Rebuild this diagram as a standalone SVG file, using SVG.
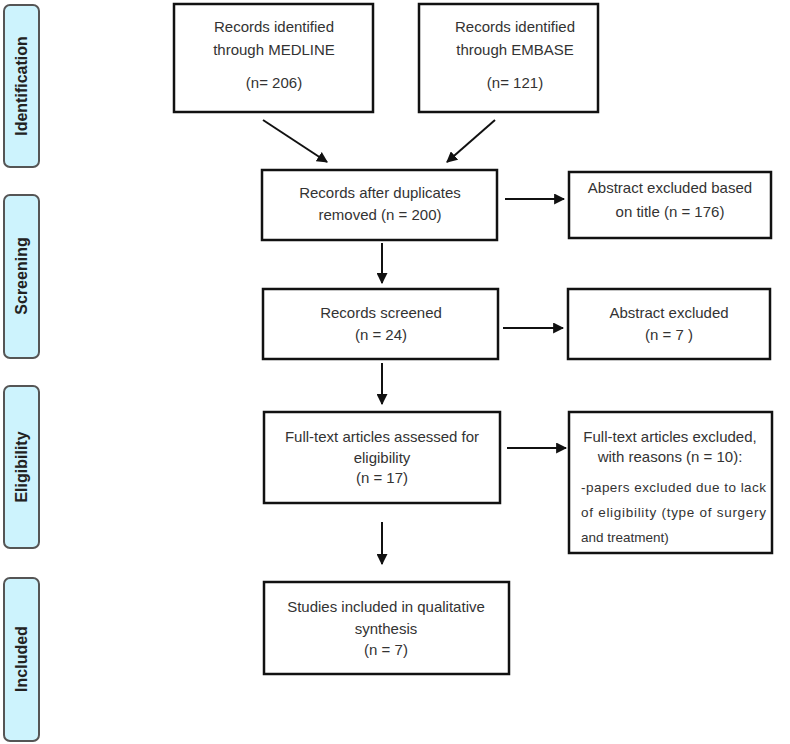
<svg xmlns="http://www.w3.org/2000/svg" width="790" height="744" viewBox="0 0 790 744">
<style>
.box{fill:#fff;stroke:#111;stroke-width:2.5}
.side{fill:#cdf3fd;stroke:#555;stroke-width:2}
.t{font-family:"Liberation Sans",Arial,sans-serif;font-size:15px;fill:#333;text-anchor:middle}
.j{font-family:"Liberation Sans",Arial,sans-serif;font-size:13.5px;fill:#333}
.s{font-family:"Liberation Sans",Arial,sans-serif;font-size:16px;font-weight:bold;fill:#222;text-anchor:middle}
.c{stroke:#111;stroke-width:2;fill:none}
</style>
<defs>
<marker id="ah" viewBox="0 0 10 10" refX="9" refY="5" markerWidth="5.5" markerHeight="5.5" orient="auto" markerUnits="strokeWidth">
<path d="M0,0 L10,5 L0,10 z" fill="#111"/>
</marker>
</defs>
<rect width="790" height="744" fill="#fff"/>
<g id="lbl-identification"><rect class="side" x="4" y="5" width="35" height="162" rx="6"/><text class="s" transform="translate(27,86) rotate(-90)">Identification</text></g>
<g id="lbl-screening"><rect class="side" x="4" y="195" width="35" height="163" rx="6"/><text class="s" transform="translate(27,276) rotate(-90)">Screening</text></g>
<g id="lbl-eligibility"><rect class="side" x="4" y="386" width="35" height="162" rx="6"/><text class="s" transform="translate(27,467) rotate(-90)">Eligibility</text></g>
<g id="lbl-included"><rect class="side" x="4" y="578" width="35" height="163" rx="6"/><text class="s" transform="translate(27,659) rotate(-90)">Included</text></g>

<g id="medline"><rect class="box" x="174" y="4" width="199" height="108"/>
<text class="t" x="274" y="32">Records identified</text><text class="t" x="274" y="55">through MEDLINE</text><text class="t" x="274" y="88">(n= 206)</text></g>
<g id="embase"><rect class="box" x="419" y="4" width="179" height="108"/>
<text class="t" x="515" y="32">Records identified</text><text class="t" x="515" y="55">through EMBASE</text><text class="t" x="515" y="88">(n= 121)</text></g>
<g id="duplicates"><rect class="box" x="262" y="170" width="235" height="70"/>
<text class="t" x="380" y="198">Records after duplicates</text><text class="t" x="380" y="220">removed (n = 200)</text></g>
<g id="excl-title"><rect class="box" x="569" y="172" width="202" height="66"/>
<text class="t" x="670" y="193">Abstract excluded based</text><text class="t" x="670" y="217">on title (n = 176)</text></g>
<g id="screened"><rect class="box" x="263" y="289" width="235" height="70"/>
<text class="t" x="381" y="318">Records screened</text><text class="t" x="381" y="340">(n = 24)</text></g>
<g id="excl-abstract"><rect class="box" x="568" y="289" width="202" height="70"/>
<text class="t" x="669" y="318">Abstract excluded</text><text class="t" x="669" y="340">(n = 7 )</text></g>
<g id="fulltext"><rect class="box" x="264" y="412" width="236" height="91"/>
<text class="t" x="382" y="442">Full-text articles assessed for</text><text class="t" x="382" y="463">eligibility</text><text class="t" x="382" y="483">(n = 17)</text></g>
<g id="excl-fulltext"><rect class="box" x="569" y="412" width="203" height="141"/>
<text class="t" x="670" y="442">Full-text articles excluded,</text><text class="t" x="670" y="462">with reasons (n = 10):</text>
<text class="j" x="581" y="492" textLength="185" lengthAdjust="spacing">-papers excluded due to lack</text>
<text class="j" x="581" y="517" textLength="185" lengthAdjust="spacing">of eligibility (type of surgery</text>
<text class="j" x="581" y="542">and treatment)</text></g>
<g id="included"><rect class="box" x="264" y="582" width="245" height="92"/>
<text class="t" x="386" y="612">Studies included in qualitative</text><text class="t" x="386" y="634">synthesis</text><text class="t" x="386" y="655">(n = 7)</text></g>

<g id="connectors">
<line class="c" x1="263" y1="120" x2="327" y2="162" marker-end="url(#ah)"/>
<line class="c" x1="495" y1="120" x2="447" y2="162" marker-end="url(#ah)"/>
<line class="c" x1="505" y1="199" x2="564" y2="199" marker-end="url(#ah)"/>
<line class="c" x1="382" y1="243" x2="382" y2="283" marker-end="url(#ah)"/>
<line class="c" x1="503" y1="328" x2="563" y2="328" marker-end="url(#ah)"/>
<line class="c" x1="382" y1="363" x2="382" y2="404" marker-end="url(#ah)"/>
<line class="c" x1="507" y1="448" x2="566" y2="448" marker-end="url(#ah)"/>
<line class="c" x1="382" y1="522" x2="382" y2="564" marker-end="url(#ah)"/>
</g>
</svg>
